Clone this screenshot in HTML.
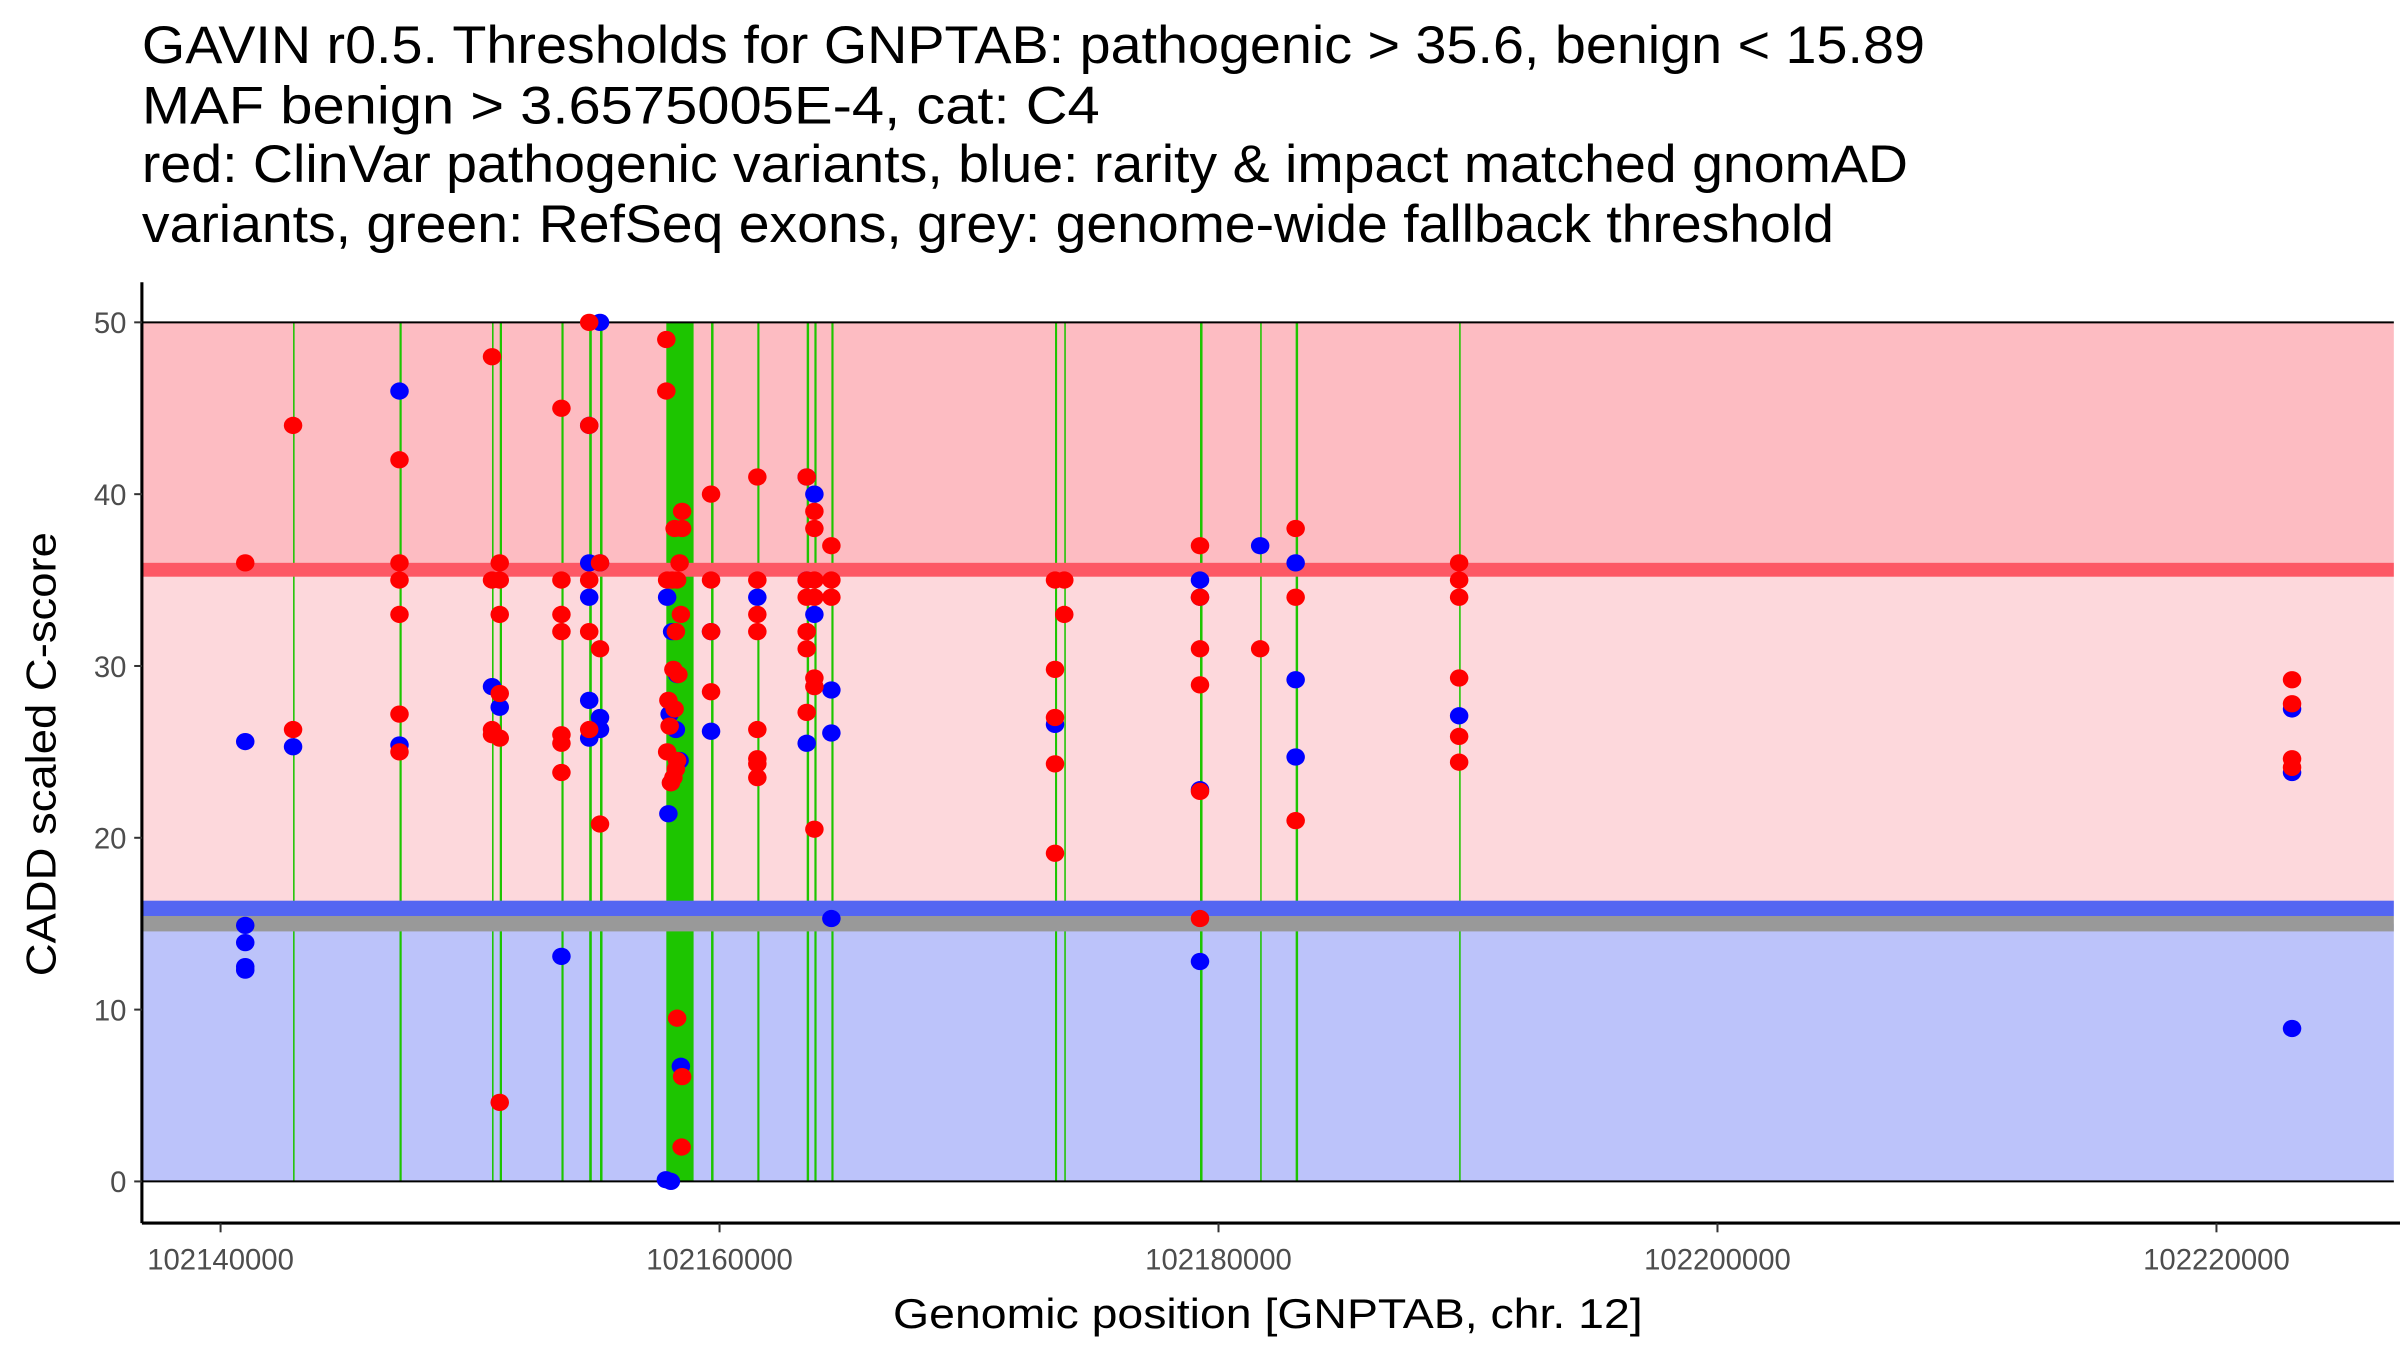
<!DOCTYPE html>
<html><head><meta charset="utf-8"><style>
html,body{margin:0;padding:0;background:#fff}
svg{display:block}
text{font-family:"Liberation Sans",Arial,sans-serif}
</style></head><body>
<svg id="chart" width="2400" height="1350" viewBox="0 0 1556 875.3" preserveAspectRatio="none" xmlns="http://www.w3.org/2000/svg">
<g font-size="34" fill="#000">
<text x="92" y="41" textLength="1156" lengthAdjust="spacingAndGlyphs">GAVIN r0.5. Thresholds for GNPTAB: pathogenic &gt; 35.6, benign &lt; 15.89</text>
<text x="92" y="80" textLength="621" lengthAdjust="spacingAndGlyphs">MAF benign &gt; 3.6575005E-4, cat: C4</text>
<text x="92" y="118" textLength="1145" lengthAdjust="spacingAndGlyphs">red: ClinVar pathogenic variants, blue: rarity &amp; impact matched gnomAD</text>
<text x="92" y="157" textLength="1097" lengthAdjust="spacingAndGlyphs">variants, green: RefSeq exons, grey: genome-wide fallback threshold</text>
</g>
<g id="bands"></g>
<g id="exons"></g>
<g id="hlines"></g>
<g id="points"></g>
<g id="axes"></g>
<text x="579" y="861" font-size="27" textLength="486" lengthAdjust="spacingAndGlyphs">Genomic position [GNPTAB, chr. 12]</text>
<text transform="translate(36,633) rotate(-90)" font-size="27" textLength="288" lengthAdjust="spacingAndGlyphs">CADD scaled C-score</text>
</svg>
<script>
const xTicks = [102140000, 102160000, 102180000, 102200000, 102220000];
const yTicks = [0, 10, 20, 30, 40, 50];
const thresholds = [35.6, 15.89, 15.0];
const exonStarts = [102142906,102147172,102150881,102151190,102153663,102154776,102155209,102157867,102159660,102161515,102163493,102163802,102164483,102173447,102173818,102179258,102181670,102183092,102189645];
const exonEnds   = [102142960,102147260,102150940,102151280,102153750,102154880,102155310,102158960,102159760,102161600,102163590,102163890,102164570,102173530,102173870,102179360,102181720,102183190,102189700];
const bluePos = [102140989,102140989,102140989,102140989,102140989,102142906,102147172,102147172,102150881,102151190,102153663,102154776,102154776,102154776,102154776,102154776,102155209,102155209,102155209,102155209,102157900,102158100,102158300,102158000,102158250,102158400,102157950,102158450,102157850,102158050,102159660,102159660,102161515,102163493,102163493,102163493,102163802,102163802,102164483,102164483,102164483,102173447,102179258,102179258,102179258,102179258,102181670,102183092,102183092,102183092,102189645,102223030,102223030,102223030];
const blueVal = [25.6,14.9,13.9,12.5,12.3,25.3,46,25.4,28.8,27.6,13.1,44,36,34,28,25.8,50,36,27,26.3,34,32,29.5,27.2,26.3,24.5,21.4,6.7,0.1,0.0,26.2,32,34,41,35,25.5,40,33,28.6,26.1,15.3,26.6,35,34,22.8,12.8,37,36,29.2,24.7,27.1,27.5,23.8,8.9];
const redPos = [102140989,102142906,102142906,102147172,102147172,102147172,102147172,102147172,102147172,102150881,102150881,102150881,102150881,102151190,102151190,102151190,102151190,102151190,102151190,102153663,102153663,102153663,102153663,102153663,102153663,102153663,102154776,102154776,102154776,102154776,102154776,102155209,102155209,102155209,
102157867,102157867,102157900,102158100,102158300,102158500,102158200,102158500,102158400,102158450,102158250,102158150,102158350,102157950,102158200,102158000,102157900,102158300,102158250,102158150,102158050,102158300,102158500,
102159660,102159660,102159660,102159660,102161515,102161515,102161515,102161515,102161515,102161515,102161515,102161515,102163493,102163493,102163493,102163493,102163493,102163493,102163802,102163802,102163802,102163802,102163802,102163802,102163802,102164483,102164483,102164483,102173447,102173447,102173447,102173447,102173447,102173818,102173818,102179258,102179258,102179258,102179258,102179258,102179258,102181670,102183092,102183092,102183092,102189645,102189645,102189645,102189645,102189645,102189645,102223030,102223030,102223030,102223030,102158480];
const redVal = [36,44,26.3,42,36,35,33,27.2,25,48,35,26.3,26,36,35,33,28.4,25.8,4.6,45,35,33,32,26,25.5,23.8,50,44,35,32,26.3,36,31,20.8,
49,46,35,35,35,38,38,39,36,33,32,29.8,29.5,28,27.5,26.5,25,24.5,24,23.5,23.2,9.5,6.1,
40,35,32,28.5,41,35,33,32,26.3,24.6,24.3,23.5,41,35,34,32,31,27.3,38,39,35,34,29.3,28.8,20.5,37,35,34,35,29.8,27,24.3,19.1,35,33,37,34,31,28.9,22.7,15.3,31,38,34,21,36,35,34,29.3,25.9,24.4,29.2,27.8,24.6,24.1,2.0];

const NS='http://www.w3.org/2000/svg';
const X0=92,X1=1552,Y0=183,Y1=793;
function sx(v){return 143+(v-102140000)*323.5/20000;}
function sy(v){return 766-v*(557/50);}
function mk(tag,attrs,parent){const e=document.createElementNS(NS,tag);for(const k in attrs)e.setAttribute(k,attrs[k]);parent.appendChild(e);return e;}

const bands=document.getElementById('bands');
let r;
r=mk('rect',{x:X0,y:sy(50),width:X1-X0,height:sy(thresholds[0])-sy(50),fill:'#fdbcc2'},bands);


r=mk('rect',{x:X0,y:sy(thresholds[0]),width:X1-X0,height:sy(thresholds[1])-sy(thresholds[0]),fill:'#fdd8dc'},bands);


r=mk('rect',{x:X0,y:sy(thresholds[2]),width:X1-X0,height:sy(0)-sy(thresholds[2]),fill:'#bcc3fa'},bands);



const ex=document.getElementById('exons');
for(let i=0;i<exonStarts.length;i++){
  const a=sx(exonStarts[i]),b=sx(exonEnds[i]);
  const e=mk('rect',{x:a,y:sy(50),width:Math.max(1,b-a),height:sy(0)-sy(50),fill:'#1dc500'},ex);
  
  
}

const hl=document.getElementById('hlines');
let l;
l=mk('rect',{x:X0,y:sy(thresholds[0])-4.5,width:X1-X0,height:9,fill:'#fd5865'},hl);


l=mk('rect',{x:X0,y:sy(thresholds[1])-5,width:X1-X0,height:10,fill:'#5466f2'},hl);


l=mk('rect',{x:X0,y:sy(thresholds[2])-5,width:X1-X0,height:10,fill:'#999999'},hl);


l=mk('line',{x1:X0,x2:X1,y1:sy(50),y2:sy(50),stroke:'#000','stroke-width':1.3},hl);


l=mk('line',{x1:X0,x2:X1,y1:sy(0),y2:sy(0),stroke:'#000','stroke-width':1.3},hl);



const pts=document.getElementById('points');
for(let i=0;i<bluePos.length;i++){
  const c=mk('ellipse',{cx:sx(bluePos[i]),cy:sy(blueVal[i]),rx:6,ry:5.6,fill:'#0000ff'},pts);
  
  
}
for(let i=0;i<redPos.length;i++){
  const c=mk('ellipse',{cx:sx(redPos[i]),cy:sy(redVal[i]),rx:6,ry:5.6,fill:'#ff0000'},pts);
  
  
}

const ax=document.getElementById('axes');
let a;
a=mk('line',{x1:X0,x2:X0,y1:Y0,y2:Y1,stroke:'#000','stroke-width':2},ax);


a=mk('line',{x1:X0,x2:X1+4,y1:Y1,y2:Y1,stroke:'#000','stroke-width':2},ax);


yTicks.forEach(v=>{
  const t=mk('line',{x1:X0-5,x2:X0,y1:sy(v),y2:sy(v),stroke:'#333','stroke-width':1.3},ax);
  
  
  const tx=mk('text',{x:X0-10,y:sy(v)+7,'font-size':19,fill:'#4d4d4d','text-anchor':'end'},ax);
  tx.textContent=v;
  
  
});
xTicks.forEach(v=>{
  const t=mk('line',{x1:sx(v),x2:sx(v),y1:Y1,y2:Y1+6,stroke:'#333','stroke-width':1.3},ax);
  
  
  const tx=mk('text',{x:sx(v),y:Y1+30,'font-size':19,fill:'#4d4d4d','text-anchor':'middle'},ax);
  tx.textContent=v;
  
  
});
</script>
</body></html>
